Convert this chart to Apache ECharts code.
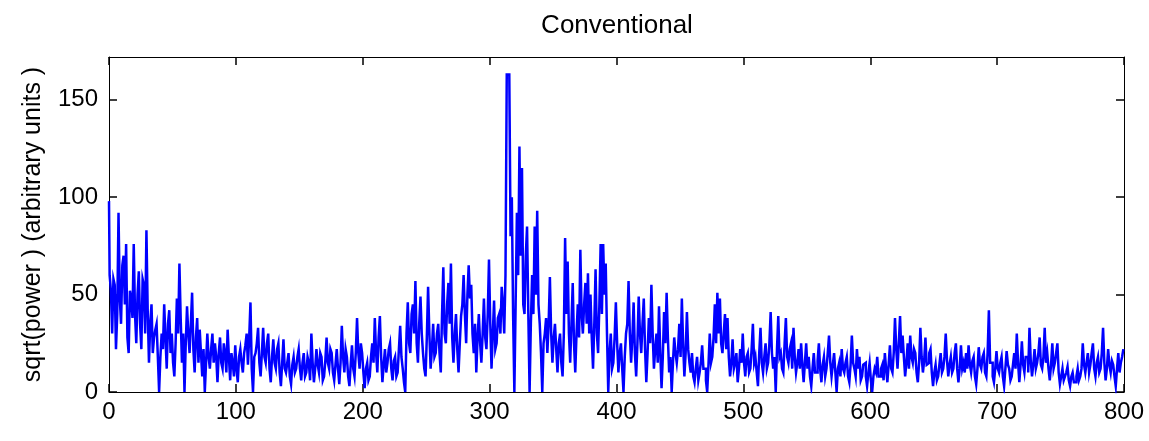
<!DOCTYPE html>
<html>
<head>
<meta charset="utf-8">
<script src="https://cdn.jsdelivr.net/npm/echarts@6/dist/echarts.min.js"></script>
<style>
  html, body { margin: 0; padding: 0; background: #fff; }
  #chart { width: 1149px; height: 441px; }
</style>
</head>
<body>
<div id="chart"></div>
<script>
// Spectrum samples, one value per unit along x
const STEP = 1;
const power = [
  98, 60, 52, 30, 58, 55, 22, 40, 92, 48, 35, 65, 70, 45, 76, 28, 20, 52, 48, 38,
  76, 40, 25, 50, 62, 35, 22, 58, 55, 30, 83, 42, 15, 35, 45, 20, 28, 32, 35, 18,
  0, 18, 30, 22, 45, 28, 12, 35, 42, 20, 30, 15, 8, 25, 48, 30, 66, 38, 15, 30,
  0, 25, 44, 30, 20, 35, 51, 22, 10, 28, 38, 15, 32, 20, 8, 22, 0, 15, 30, 18,
  12, 22, 30, 15, 25, 18, 5, 20, 28, 15, 12, 25, 20, 10, 32, 18, 6, 20, 15, 8,
  24, 12, 5, 18, 22, 15, 10, 20, 24, 30, 14, 28, 46, 12, 0, 18, 20, 25, 33, 15,
  8, 20, 33, 18, 15, 25, 30, 12, 5, 18, 27, 15, 12, 22, 25, 10, 3, 15, 27, 12,
  10, 15, 20, 8, 4, 14, 18, 10, 12, 18, 22, 12, 6, 15, 20, 8, 10, 18, 15, 6,
  30, 15, 5, 12, 22, 14, 10, 20, 18, 6, 8, 16, 28, 15, 12, 22, 20, 10, 6, 14,
  22, 12, 4, 15, 34, 18, 10, 22, 18, 8, 3, 14, 24, 12, 8, 20, 38, 20, 12, 25,
  20, 10, 2, 12, 15, 6, 8, 18, 25, 15, 38, 20, 10, 28, 39, 18, 5, 14, 22, 10,
  15, 22, 25, 12, 6, 16, 18, 8, 10, 22, 34, 18, 12, 5, 0, 30, 46, 25, 20, 40,
  45, 30, 57, 25, 15, 35, 49, 30, 20, 12, 8, 28, 54, 30, 12, 22, 35, 18, 20, 30,
  35, 20, 10, 40, 64, 30, 25, 45, 56, 35, 66, 28, 15, 30, 40, 22, 10, 25, 39, 45,
  60, 40, 25, 50, 65, 48, 55, 30, 20, 35, 10, 28, 40, 25, 15, 30, 48, 28, 22, 40,
  68, 35, 12, 30, 47, 22, 25, 38, 40, 30, 54, 45, 30, 60, 163, 163, 162, 80, 100, 40,
  0, 45, 92, 60, 126, 70, 115, 45, 40, 70, 85, 40, 0, 35, 60, 40, 85, 50, 93, 45,
  35, 20, 0, 25, 30, 38, 20, 35, 59, 30, 15, 28, 35, 22, 10, 25, 30, 15, 8, 30,
  79, 40, 67, 30, 15, 35, 56, 25, 10, 30, 45, 28, 73, 40, 30, 45, 56, 35, 61, 30,
  50, 28, 12, 35, 63, 30, 20, 45, 76, 40, 76, 50, 66, 30, 0, 20, 30, 12, 15, 28,
  46, 25, 10, 20, 25, 12, 0, 18, 30, 35, 57, 30, 15, 28, 46, 20, 8, 25, 49, 30,
  20, 35, 48, 22, 5, 20, 38, 25, 55, 30, 12, 22, 30, 15, 44, 20, 2, 18, 41, 25,
  51, 28, 10, 18, 0, 15, 28, 20, 15, 22, 35, 18, 48, 25, 8, 20, 41, 22, 15, 10,
  20, 8, 5, 12, 18, 6, 10, 15, 24, 12, 12, 6, 0, 14, 30, 15, 18, 28, 45, 25,
  51, 30, 48, 25, 20, 30, 40, 22, 38, 18, 8, 15, 27, 12, 15, 20, 5, 12, 22, 15,
  30, 15, 8, 18, 20, 10, 12, 22, 35, 15, 18, 10, 3, 20, 33, 15, 10, 18, 25, 12,
  15, 25, 41, 20, 12, 18, 0, 22, 39, 18, 20, 12, 10, 25, 38, 18, 15, 22, 25, 12,
  33, 18, 10, 15, 22, 12, 25, 14, 5, 15, 25, 12, 18, 8, 3, 12, 20, 10, 10, 16,
  25, 12, 5, 14, 18, 8, 12, 20, 29, 15, 8, 14, 20, 10, 0, 12, 15, 8, 22, 12,
  10, 15, 18, 8, 5, 14, 29, 15, 12, 8, 22, 12, 18, 6, 8, 14, 15, 8, 3, 10,
  15, 6, 0, 8, 12, 10, 18, 8, 8, 12, 14, 6, 20, 12, 5, 14, 24, 12, 10, 20,
  38, 22, 12, 25, 39, 20, 29, 18, 8, 15, 25, 12, 29, 18, 15, 22, 20, 10, 5, 15,
  33, 18, 10, 16, 28, 14, 15, 20, 22, 10, 3, 10, 14, 6, 8, 14, 20, 10, 12, 18,
  30, 16, 8, 14, 18, 10, 12, 20, 25, 12, 5, 12, 24, 12, 15, 10, 20, 12, 24, 14,
  10, 16, 18, 8, 4, 12, 23, 14, 12, 18, 20, 10, 8, 20, 42, 15, 15, 8, 5, 12,
  21, 12, 10, 15, 18, 8, 3, 12, 21, 14, 12, 6, 8, 14, 20, 12, 30, 15, 5, 14,
  26, 14, 10, 18, 18, 10, 33, 16, 8, 14, 22, 12, 15, 20, 28, 14, 12, 18, 33, 15,
  20, 12, 6, 14, 25, 12, 15, 20, 25, 10, 4, 8, 12, 6, 8, 10, 13, 6, 3, 8,
  10, 5, 5, 8, 12, 6, 8, 12, 25, 14, 10, 15, 20, 10, 14, 20, 25, 12, 8, 15,
  18, 10, 12, 20, 33, 15, 6, 12, 22, 14, 10, 16, 14, 8, 3, 12, 20, 10, 15, 18,
  22
];

const X_MIN = 0, X_MAX = 800, X_INTERVAL = 100;
const Y_MIN = 0, Y_MAX = 172;
const Y_TICKS = [0, 50, 100, 150];

const FONT = '"Liberation Sans", Arial, Helvetica, sans-serif';

const chart = echarts.init(document.getElementById('chart'));

const axisBase = {
  type: 'value',
  axisLine: { show: true, onZero: false, lineStyle: { color: '#000', width: 1 } },
  axisTick: { show: true, inside: true, length: 8, lineStyle: { color: '#000', width: 1.5 } },
  splitLine: { show: false },
};

const xBase = { ...axisBase, min: X_MIN, max: X_MAX, interval: X_INTERVAL };
const yBase = {
  ...axisBase,
  min: Y_MIN,
  max: Y_MAX,
  axisTick: { ...axisBase.axisTick, customValues: Y_TICKS },
};

const option = {
  backgroundColor: '#fff',
  animation: false,
  title: {
    text: 'Conventional',
    left: 612,
    textAlign: 'center',
    top: 8,
    textStyle: { fontFamily: FONT, fontWeight: 'normal', fontSize: 26, color: '#000' },
  },
  grid: { left: 109, top: 57, right: 25, bottom: 49 },
  xAxis: [
    {
      ...xBase,
      position: 'bottom',
      axisLabel: { color: '#000', fontFamily: FONT, fontSize: 24, margin: 8 },
    },
    { ...xBase, position: 'top', axisLabel: { show: false } },
  ],
  yAxis: [
    {
      ...yBase,
      position: 'left',
      name: 'sqrt(power ) (arbitrary units )',
      nameLocation: 'middle',
      nameGap: 63,
      nameTextStyle: { color: '#000', fontFamily: FONT, fontSize: 25 },
      axisLabel: {
        color: '#000', fontFamily: FONT, fontSize: 24, margin: 11,
        customValues: Y_TICKS,
      },
    },
    { ...yBase, position: 'right', axisLabel: { show: false } },
  ],
  series: [
    {
      type: 'line',
      xAxisIndex: 0,
      yAxisIndex: 0,
      data: power.map((v, i) => [X_MIN + i * STEP, v]),
      showSymbol: false,
      step: 'middle',
      lineStyle: { color: '#0000ff', width: 2.5, join: 'miter' },
      clip: true,
    },
  ],
};

chart.setOption(option);
</script>
</body>
</html>
